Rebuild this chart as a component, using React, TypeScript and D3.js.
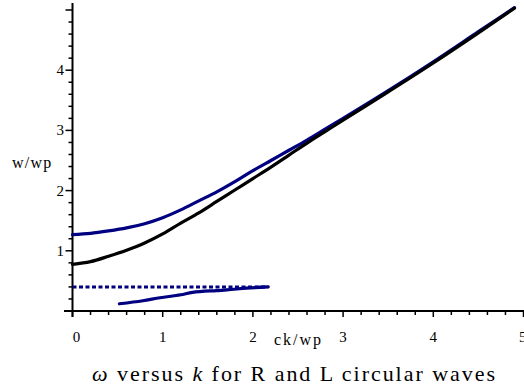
import React from "react";
import * as d3 from "d3";

const W = 524;
const H = 387;

// ck/wp values
const kGrid = [0, 0.2, 0.4, 0.6, 0.8, 1.0, 1.2, 1.4, 1.6, 1.8, 2.0, 2.2, 2.4, 2.6, 2.8, 3.0, 3.5, 4.0, 4.5, 4.9];
// L-wave (black)
const wBlack = [0.775, 0.82, 0.91, 1.01, 1.13, 1.28, 1.46, 1.63, 1.82, 2.01, 2.2, 2.39, 2.59, 2.79, 2.98, 3.17, 3.64, 4.12, 4.62, 5.03];
// R-wave upper branch (blue)
const wBlueUpper = [1.27, 1.29, 1.33, 1.38, 1.45, 1.55, 1.68, 1.83, 1.98, 2.15, 2.33, 2.5, 2.67, 2.84, 3.02, 3.2, 3.66, 4.14, 4.64, 5.04];
// R-wave whistler branch (blue, lower)
const kLower = [0.52, 0.78, 0.97, 1.2, 1.33, 1.6, 1.71, 1.93, 2.17];
const wLower = [0.12, 0.17, 0.22, 0.27, 0.31, 0.34, 0.35, 0.38, 0.40];
// cyclotron asymptote (dashed)
const kAsym = [0, 2.17];
const wAsym = [0.40, 0.40];

const xTickLabels = ["0", "1", "2", "3", "4", "5"];
const yTickLabels = ["1", "2", "3", "4"];

const NAVY = "#000080";
const FONT = "'Liberation Serif', 'Times New Roman', serif";

export default function App() {
  const x = d3.scaleLinear().domain([0, 5]).range([72.5, 523.5]);
  const y = d3.scaleLinear().domain([0, 5]).range([311, 10]);

  const line = d3
    .line<[number, number]>()
    .x((d) => x(d[0]))
    .y((d) => y(d[1]))
    .curve(d3.curveMonotoneX);

  const zip = (a: number[], b: number[]) => a.map((v, i) => [v, b[i]] as [number, number]);

  const minorX = d3.range(0, 26).map((i) => i * 0.2);
  const minorY = d3.range(0, 26).map((i) => i * 0.2);

  return (
    <svg
      width={W}
      height={H}
      style={{ position: "fixed", left: 0, top: 0, background: "#fff" }}
      fontFamily={FONT}
    >
      {/* axes */}
      <line x1={64} x2={524} y1={y(0)} y2={y(0)} stroke="#000" strokeWidth={2} />
      <line x1={x(0)} x2={x(0)} y1={3} y2={317} stroke="#000" strokeWidth={2} />
      {minorX.map((v, i) => {
        const major = i % 5 === 0;
        return (
          <line key={"xt" + i} x1={x(v)} x2={x(v)} y1={y(0)} y2={y(0) + (major ? 6 : 4)} stroke="#000" strokeWidth={1.5} />
        );
      })}
      {minorY.map((v, i) => {
        const major = i % 5 === 0;
        return (
          <line key={"yt" + i} x1={x(0) - (major ? 7 : 4)} x2={x(0)} y1={y(v)} y2={y(v)} stroke="#000" strokeWidth={1.5} />
        );
      })}
      {xTickLabels.map((t, i) => (
        <text
          key={"xl" + t}
          x={i === 5 ? 519 : x(+t) + (i === 0 ? 4 : 0)}
          y={342}
          fontSize={15}
          textAnchor={i === 5 ? "start" : "middle"}
          fill="#000"
          fontFamily={FONT}
        >
          {t}
        </text>
      ))}
      {yTickLabels.map((t) => (
        <text key={"yl" + t} x={64} y={y(+t) + 5} fontSize={15} textAnchor="end" fill="#000" fontFamily={FONT}>
          {t}
        </text>
      ))}
      <text x={12} y={168} fontSize={16} fill="#000" letterSpacing={1.2} fontFamily={FONT}>w/wp</text>
      <text x={274} y={345} fontSize={16} fill="#000" letterSpacing={2} fontFamily={FONT}>ck/wp</text>
      <text
        x={92}
        y={381}
        fontSize={22}
        fill="#000"
        fontFamily={FONT}
        textLength={403}
        lengthAdjust="spacing"
      >
        <tspan fontStyle="italic">ω</tspan>
        <tspan> versus </tspan>
        <tspan fontStyle="italic">k</tspan>
        <tspan> for R and L circular waves</tspan>
      </text>

      {/* curves */}
      <path d={line(zip(kAsym, wAsym)) || ""} fill="none" stroke={NAVY} strokeWidth={3} strokeDasharray="4,2.5" />
      <path d={line(zip(kLower, wLower)) || ""} fill="none" stroke={NAVY} strokeWidth={3.2} strokeLinecap="round" />
      <path d={line(zip(kGrid, wBlueUpper)) || ""} fill="none" stroke={NAVY} strokeWidth={3.2} strokeLinecap="round" />
      <path d={line(zip(kGrid, wBlack)) || ""} fill="none" stroke="#000" strokeWidth={3.2} strokeLinecap="round" />
    </svg>
  );
}
